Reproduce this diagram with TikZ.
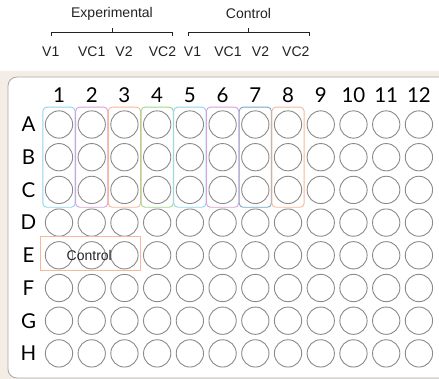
\documentclass[tikz,border=0pt]{standalone}
\usepackage{fontspec}
\setmainfont{Liberation Sans}
\newfontfamily\platefont{Lato}
\usetikzlibrary{fit}
\definecolor{beige}{HTML}{F3EDE6}
\definecolor{platebd}{HTML}{A8A8A8}
\definecolor{wellbd}{HTML}{8A8A8A}
\definecolor{cblue}{HTML}{8ED4EE}
\definecolor{corchid}{HTML}{D9A0DA}
\definecolor{csalmon}{HTML}{F7B899}
\definecolor{cgreen}{HTML}{9FD68E}
\definecolor{csteel}{HTML}{7AA6C4}
\definecolor{txt}{HTML}{222222}
\tikzset{
  well/.style={circle, draw=wellbd, line width=0.9pt, minimum size=27.3pt, inner sep=0pt},
  plabel/.style={font=\platefont\fontsize{20.5}{22}\selectfont, text=black, inner sep=0pt},
  toplabel/.style={font=\fontsize{14}{15}\selectfont, text=txt, inner sep=0pt},
  grp/.style={draw=#1, line width=0.9pt, rounded corners=4pt, inner xsep=2pt, inner ysep=3.3pt},
  brk/.style={draw=txt, line width=0.9pt},
}
\begin{document}
\begin{tikzpicture}[x=1pt,y=-1pt]
\useasboundingbox (0,0) rectangle (439,379);
\clip (0,0) rectangle (439,379);
% background band and plate
\fill[beige] (0,71) rectangle (439,379);
\draw[platebd, fill=white, line width=0.8pt, rounded corners=9pt] (8,77) rectangle (460,378);
% column labels
\foreach \c in {1,...,12} {
  \node[plabel] (col-\c) at ({59+(\c-1)*32.72},95) {\c};
}
% rows and wells
\foreach \r [count=\i from 0] in {A,B,C,D,E,F,G,H} {
  \node[plabel] (row-\r) at (28.5,{124.5+\i*32.7}) {\r};
  \foreach \c in {1,...,12} {
    \node[well] (w-\r-\c) at ({59+(\c-1)*32.72},{124.5+\i*32.7}) {};
  }
}
% group rectangles
\node[grp=cblue, fit=(w-A-1)(w-C-1)] (g1) {};
\node[grp=corchid, fit=(w-A-2)(w-C-2)] (g2) {};
\node[grp=csalmon, fit=(w-A-3)(w-C-3)] (g3) {};
\node[grp=cgreen, fit=(w-A-4)(w-C-4)] (g4) {};
\node[grp=cblue, fit=(w-A-5)(w-C-5)] (g5) {};
\node[grp=corchid, fit=(w-A-6)(w-C-6)] (g6) {};
\node[grp=csteel, fit=(w-A-7)(w-C-7)] (g7) {};
\node[grp=csalmon, fit=(w-A-8)(w-C-8)] (g8) {};
% control box
\draw[csalmon, line width=0.9pt] (40.7,236.7) rectangle (140.7,270);
\node[toplabel, text=black!85] (ctrl) at (89.3,255.5) {Control};
% top labels
\node[toplabel] (exp) at (112,14) {Experimental};
\node[toplabel] (con) at (248.5,14) {Control};
\coordinate (eL) at (51.7,36);
\coordinate (eR) at (172.3,36);
\coordinate (eT) at (112.7,28.3);
\coordinate (cL) at (188.3,36);
\coordinate (cR) at (309,36);
\coordinate (cT) at (248.3,28.3);
\draw[brk] (eL) -- ++(0,-3.7) -| (eR);
\draw[brk] (eT) -- (eT |- 0,32.3);
\draw[brk] (cL) -- ++(0,-3.7) -| (cR);
\draw[brk] (cT) -- (cT |- 0,32.3);
\foreach \t/\x [count=\k] in {V1/50.8,VC1/91.7,V2/124,VC2/162.5,V1/192.5,VC1/228,V2/260.5,VC2/295.8} {
  \node[toplabel] (lab-\k) at (\x,51.7) {\t};
}
\end{tikzpicture}
\end{document}
